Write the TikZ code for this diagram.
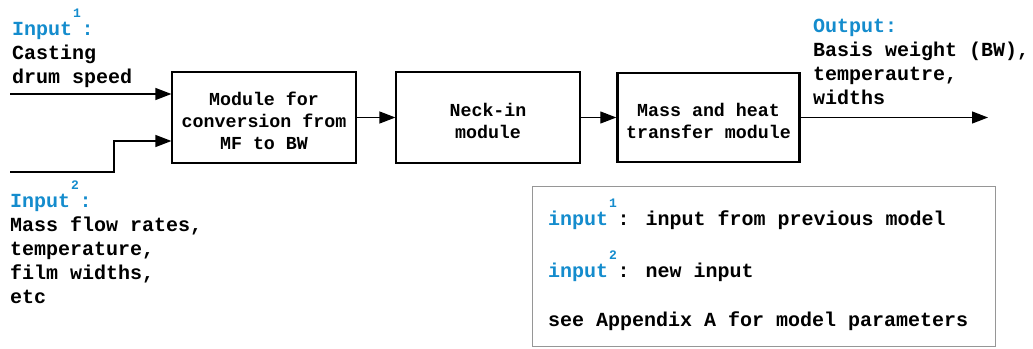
\documentclass[tikz,border=0pt]{standalone}
\usepackage{fontspec}
\setmainfont{Liberation Mono}
\usetikzlibrary{arrows.meta}
\definecolor{inblue}{RGB}{20,140,205}
\definecolor{framegray}{RGB}{150,150,150}
\newcommand{\supmark}[1]{\makebox[9.5pt][c]{\raisebox{18pt}{\fontsize{13}{13}\selectfont #1}}}
\begin{document}
\begin{tikzpicture}[x=1pt,y=-1pt,
  module/.style={draw, line width=1.2pt, minimum width=184pt, minimum height=91pt, inner sep=0pt},
  boxtext/.style={align=center, inner sep=0pt, yshift=-3pt, font=\fontsize{18.3}{22}\selectfont\bfseries},
  label/.style={anchor=base west, align=left, inner sep=0pt,
    font=\fontsize{20}{24}\selectfont\bfseries},
  arr/.style={line width=1.2pt, -{Triangle[length=16pt,width=12pt]}},
  legendbox/.style={draw=framegray, line width=1.2pt, minimum width=463pt, minimum height=160pt, inner sep=0pt}]
\useasboundingbox (0,0) rectangle (1033,348);

% processing chain
\node[module] (m1) at (264,117.5) {};
\node[module] (m2) at (488,117.5) {};
\node[module, line width=2.4pt, minimum width=182pt, minimum height=89pt] (m3) at (708.5,117.5) {};
\node[boxtext] (m1t) at (m1) {Module for\\conversion from\\MF to BW};
\node[boxtext] (m2t) at (m2) {Neck-in\\module};
\node[boxtext] (m3t) at (m3) {Mass and heat\\transfer module};

% inputs and output
\coordinate (in1) at (10,94);
\coordinate (in2) at (10,172);
\coordinate (bend) at (114,141);
\coordinate (out) at (988,117.5);
\draw[arr] (in1) -- (in1 -| m1.west);
\draw[arr] (in2) -- (in2 -| bend) -- (bend) -- (bend -| m1.west);
\draw[arr] (m1) -- (m2);
\draw[arr] (m2) -- (m3);
\draw[arr] (m3) -- (out);

% text labels (anchored at the baseline of their last line)
\node[label] (lin1) at (12,83) {\textcolor{inblue}{Input\supmark{1}:}\\Casting\\drum speed};
\node[label] (lin2) at (10,303) {\textcolor{inblue}{Input\supmark{2}:}\\Mass flow rates,\\temperature,\\film widths,\\etc};
\node[label] (lout) at (813,104) {\textcolor{inblue}{Output:}\\Basis weight (BW),\\temperautre,\\widths};

% legend
\node[legendbox] (legend) at (764,266.5) {};
\node[label] (leg1) at (548,225) {\textcolor{inblue}{input\supmark{1}}: input from previous model};
\node[label] (leg2) at (548,277) {\textcolor{inblue}{input\supmark{2}}: new input};
\node[label] (leg3) at (548,326) {see Appendix A for model parameters};
\end{tikzpicture}
\end{document}
